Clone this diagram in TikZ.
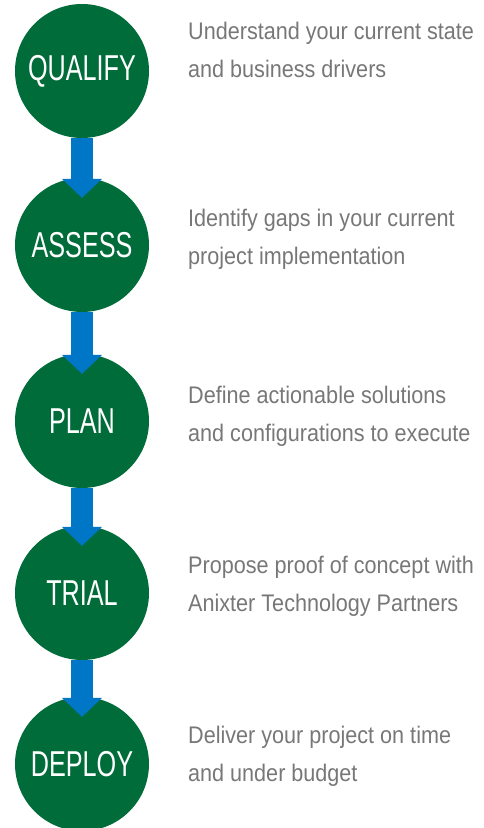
\documentclass[tikz,border=0pt]{standalone}
\usepackage{fontspec}
\setmainfont{Liberation Sans}
\newfontfamily\labelfont[FakeStretch=0.7]{Liberation Sans}
\newfontfamily\descfont[FakeStretch=0.9]{Liberation Sans}
\usetikzlibrary{arrows.meta,calc}
\definecolor{stepgreen}{HTML}{006C3A}
\definecolor{stepblue}{HTML}{0077C6}
\definecolor{descgray}{HTML}{777777}
\begin{document}
\begin{tikzpicture}[x=1pt,y=-1pt,
  stepcircle/.style={circle,fill=stepgreen,minimum size=134pt,inner sep=0pt,
    text=white,font=\labelfont\fontsize{36}{36}\selectfont},
  desc/.style={anchor=base west,align=left,inner sep=0pt,text=descgray,
    font=\descfont\fontsize{24}{37.5}\selectfont},
  flow/.style={draw=stepblue,line width=22pt,-{Triangle[width=39pt,length=19pt]}}]
\useasboundingbox (0,0) rectangle (483,828);
\node[stepcircle] (c1) at (82,71) {QUALIFY};
\node[stepcircle] (c2) at (82,245) {ASSESS};
\node[stepcircle] (c3) at (82,421) {PLAN};
\node[stepcircle] (c4) at (82,593) {TRIAL};
\node[stepcircle] (c5) at (82,764) {DEPLOY};
\draw[flow] (c1.south) -- ($(c2.north)+(0,20)$);
\draw[flow] (c2.south) -- ($(c3.north)+(0,20)$);
\draw[flow] (c3.south) -- ($(c4.north)+(0,20)$);
\draw[flow] (c4.south) -- ($(c5.north)+(0,20)$);
\node[desc] (d1) at (188,77) {Understand your current state\\and business drivers};
\node[desc] (d2) at (188,264) {Identify gaps in your current\\project implementation};
\node[desc] (d3) at (188,441) {Define actionable solutions\\and configurations to execute};
\node[desc] (d4) at (188,611) {Propose proof of concept with\\Anixter Technology Partners};
\node[desc] (d5) at (188,781) {Deliver your project on time\\and under budget};
\end{tikzpicture}
\end{document}
